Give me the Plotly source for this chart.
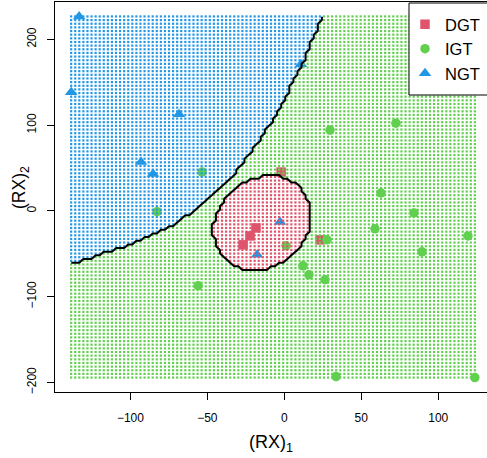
import numpy as np
import plotly.graph_objects as go

# ---- observations in the (RX)1 / (RX)2 plane ----
dgt_x = [-2.1, 23.2, -26.8, -22.3, -18.4]
dgt_y = [45.3, -33.7, -39.5, -29.1, -19.8]

igt_x = [-53.4, -82.7, 1.1, 29.7, 72.5, 62.8, 84.2, 58.9, 27.7, 119.3,
         89.4, 12.1, 16.0, 26.4, -56.0, 33.6, 123.8]
igt_y = [45.3, -0.8, -40.7, 94.2, 102.3, 20.9, -2.3, -20.9, -33.7, -29.1,
         -47.7, -64.0, -74.4, -80.2, -87.2, -193.0, -194.2]

ngt_x = [-133.3, -138.5, -68.4, -93.1, -85.3, 10.8, -2.8, -17.7]
ngt_y = [226.7, 138.4, 112.8, 57.0, 43.0, 170.9, -12.8, -51.2]

# ---- decision rule ----
# NGT / IGT separating curve (knots along the boundary)
boundary_x = [-138.1, -124.0, -106.7, -89.4, -74.2, -63.4, -52.6, -41.8, -30.9,
              -22.3, -13.6, -4.9, 3.7, 10.2, 16.7, 21.0, 24.3]
boundary_y = [-60.8, -55.0, -43.4, -29.9, -14.3, -8.5, 9.0, 24.4, 45.7,
              67.1, 90.3, 117.4, 140.7, 167.8, 191.0, 210.5, 225.9]
# DGT region: elliptical region (centre, half-extents, correlation)
dgt_center = (-14.5, -14.2)
dgt_half = (31.6, 55.2)
dgt_rho = 0.16

classes = ["DGT", "IGT", "NGT"]
colors = ["#DF536B", "#61D04F", "#2297E6"]
symbols = ["square", "circle", "triangle-up"]
msizes = [9.5, 9.5, 11]
prec = 100

xs = [dgt_x, igt_x, ngt_x]
ys = [dgt_y, igt_y, ngt_y]
all_x = np.concatenate([np.asarray(v, float) for v in xs])
all_y = np.concatenate([np.asarray(v, float) for v in ys])

gx = np.linspace(all_x.min(), all_x.max(), prec)
gy = np.linspace(all_y.min(), all_y.max(), prec)
GX, GY = np.meshgrid(gx, gy)

coef = np.polyfit(boundary_x, boundary_y, 3)
above = GY > np.polyval(coef, GX)
u = (GX - dgt_center[0]) / dgt_half[0]
v = (GY - dgt_center[1]) / dgt_half[1]
maha = (u ** 2 - 2 * dgt_rho * u * v + v ** 2) / (1 - dgt_rho ** 2)
inside = maha <= 1.0
cls = np.where(inside, 0, np.where(above, 2, 1))

# axis limits with 4% padding on each side
def padded(lo, hi):
    d = 0.04 * (hi - lo)
    return lo - d, hi + d

x_lo, x_hi_full = padded(all_x.min(), all_x.max())
y_lo, y_hi = padded(all_y.min(), all_y.max())
W, H = 487, 458
ml, mr, mt, mb = 55, 0, 2, 66
plot_w = W - ml - mr
plot_h = H - mt - mb
x_hi = x_lo + (x_hi_full - x_lo) * plot_w / (plot_w + 4)

fig = go.Figure()

# observations
for k, name in enumerate(classes):
    fig.add_trace(go.Scatter(
        x=xs[k], y=ys[k], mode="markers", name=name,
        marker=dict(symbol=symbols[k], size=msizes[k], color=colors[k],
                    line=dict(width=0)),
        hoverinfo="skip"))

# classified grid
for k, name in enumerate(classes):
    mask = cls == k
    fig.add_trace(go.Scatter(
        x=GX[mask], y=GY[mask], mode="markers", showlegend=False,
        marker=dict(symbol="square", size=2.2, color=colors[k], line=dict(width=0)),
        hoverinfo="skip"))

# class boundaries
fig.add_trace(go.Contour(
    x=gx, y=gy, z=cls, xaxis="x2", yaxis="y2",
    contours=dict(coloring="none", start=0.5, end=1.5, size=1),
    line=dict(color="black", width=2, smoothing=0),
    showscale=False, showlegend=False, hoverinfo="skip"))

axis_common = dict(showgrid=False, zeroline=False, ticks="outside", ticklen=7,
                   tickwidth=1, tickcolor="black", showline=True,
                   linecolor="black", linewidth=1,
                   tickfont=dict(size=12, color="black"))

fig.update_layout(
    width=W, height=H,
    margin=dict(l=ml, r=mr, t=mt, b=mb),
    plot_bgcolor="white", paper_bgcolor="white",
    font=dict(family="Liberation Sans, Arial, sans-serif", color="black"),
    xaxis=dict(range=[x_lo, x_hi], tickvals=[-100, -50, 0, 50, 100],
               mirror=True, ticklabelstandoff=8, **axis_common),
    yaxis=dict(range=[y_lo, y_hi], tickvals=[-200, -100, 0, 100, 200],
               tickangle=-90, ticklabelstandoff=6, **axis_common),
    xaxis2=dict(overlaying="x", range=[x_lo, x_hi], visible=False),
    yaxis2=dict(overlaying="y", range=[y_lo, y_hi], visible=False),
    legend=dict(x=(405 - ml) / plot_w, y=1.0 - 5 / plot_h,
                xanchor="left", yanchor="top",
                bgcolor="rgba(0,0,0,0)", borderwidth=0,
                font=dict(size=16.5, color="black"), traceorder="normal"),
    shapes=[dict(type="rect", xref="paper", yref="paper", layer="above",
                 x0=(409 - ml) / plot_w, x1=1.02,
                 y0=(392 - 95) / plot_h, y1=(392 - 3) / plot_h,
                 fillcolor="white", line=dict(color="black", width=1))],
    annotations=[
        dict(text="(RX)<sub>1</sub>", xref="paper", yref="paper", x=0.5, y=0,
             yshift=-51, xanchor="center", yanchor="middle", showarrow=False,
             font=dict(size=18)),
        dict(text="(RX)<sub>2</sub>", xref="paper", yref="paper", x=0, y=0.5,
             xshift=-35, yshift=9, xanchor="center", yanchor="middle",
             textangle=-90, showarrow=False, font=dict(size=17.5)),
    ],
)

fig.write_html("out.html")
